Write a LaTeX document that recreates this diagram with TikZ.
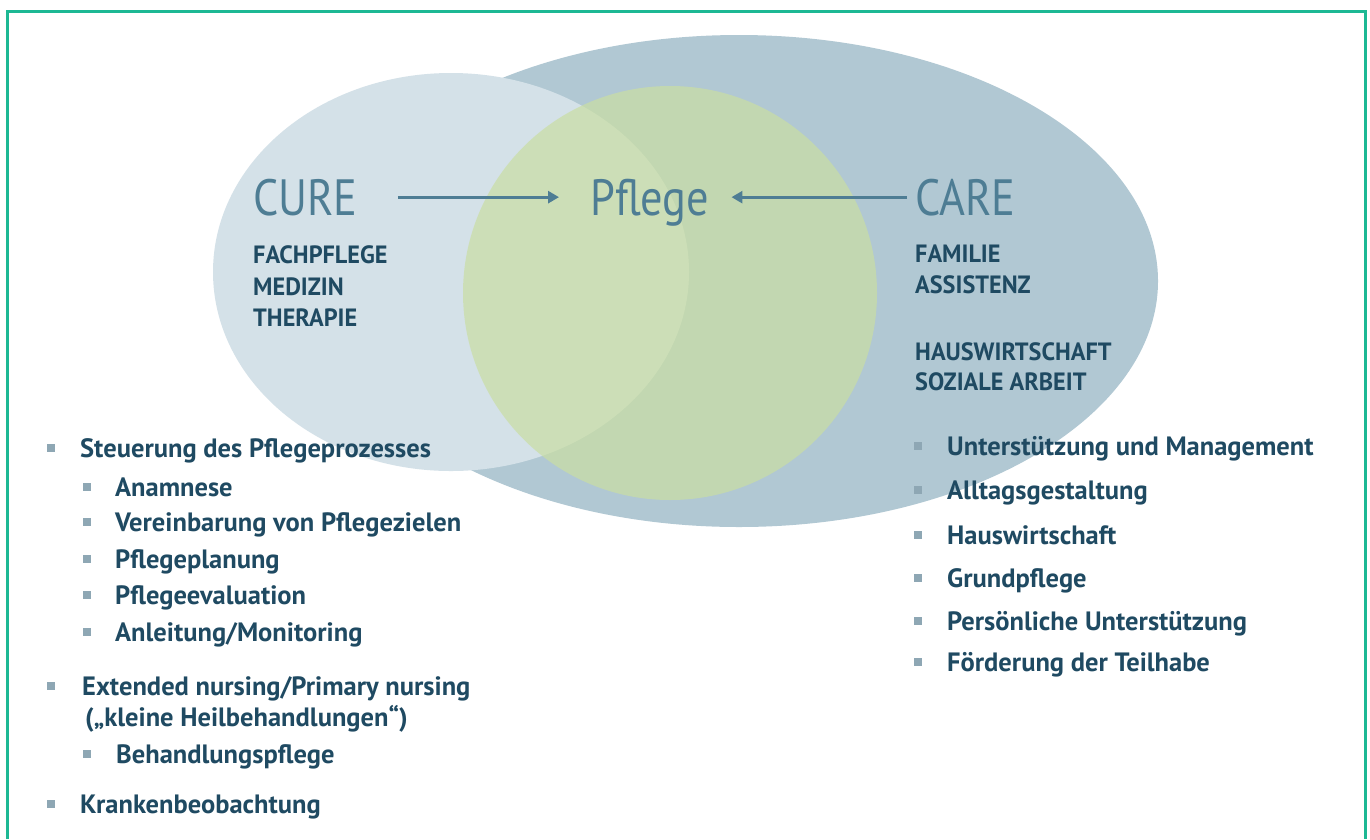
\documentclass[tikz,border=0pt]{standalone}
\usepackage{fontspec}
\setmainfont{PT Sans}
\newfontfamily\headfont[FakeStretch=0.87]{PT Sans}
\newfontfamily\capsfont[FakeStretch=0.97]{PT Sans Bold}
\newfontfamily\itemfont{PT Sans Bold}
\usetikzlibrary{arrows.meta}

\definecolor{framecol}{HTML}{1DB894}
\definecolor{curefill}{HTML}{D4E1E8}
\definecolor{carefill}{HTML}{B1C8D3}
\definecolor{pflegefill}{HTML}{CADEA3}
\definecolor{headcol}{HTML}{4E7D94}
\definecolor{textcol}{HTML}{1F4A62}
\definecolor{bulletcol}{HTML}{8EA7B4}

\tikzset{
  heading/.style={anchor=base west, inner sep=0pt, text=headcol,
    font=\headfont\fontsize{51}{60}\selectfont},
  caps/.style={anchor=base west, inner sep=0pt, text=textcol,
    font=\capsfont\fontsize{25}{30}\selectfont},
  item/.style={anchor=base west, inner sep=0pt, text=textcol,
    font=\itemfont\fontsize{26.5}{30}\selectfont},
  bul/.style={fill=bulletcol, minimum size=7.5pt, inner sep=0pt, anchor=center},
  flow/.style={draw=headcol, line width=3pt,
    -{Triangle[length=11pt,width=12pt]}},
}

\begin{document}
\begin{tikzpicture}[x=1pt,y=-1pt]
\useasboundingbox (0,0) rectangle (1370,839);
\fill[white] (0,0) rectangle (1370,839);

% outer frame, open at the bottom edge
\draw[framecol, line width=3pt] (7.5,839) -- (7.5,11) -- (1365.5,11) -- (1365.5,839);

% the three fields
\fill[carefill] (739,281) ellipse [x radius=419, y radius=246];
\fill[curefill] (451,272) ellipse [x radius=238, y radius=199];
\fill[pflegefill, opacity=0.7] (670,293) circle [radius=207];

% headings
\node[heading] (cure) at (253,215) {CURE};
\node[heading] (pflege) at (590,215) {Pflege};
\node[heading] (care) at (915,215) {CARE};

\draw[flow, shorten <=40pt, shorten >=31pt] (cure.east) -- (cure.east -| pflege.west);
\draw[flow, shorten <=8pt, shorten >=22pt] (care.west) -- (care.west -| pflege.east);

% cure fields
\node[caps] (c1) at (253,263) {FACHPFLEGE};
\node[caps] (c2) at (253,295) {MEDIZIN};
\node[caps] (c3) at (253,326) {THERAPIE};

% care fields
\node[caps] (k1) at (915,262) {FAMILIE};
\node[caps] (k2) at (915,293) {ASSISTENZ};
\node[caps] (k3) at (915,360) {HAUSWIRTSCHAFT};
\node[caps] (k4) at (915,390) {SOZIALE ARBEIT};

% cure tasks
\node[item] (l1) at (80,457) {Steuerung des Pflegeprozesses};
\node[item] (l2) at (115,496) {Anamnese};
\node[item] (l3) at (115,531) {Vereinbarung von Pflegezielen};
\node[item] (l4) at (115,568) {Pflegeplanung};
\node[item] (l5) at (115,604) {Pflegeevaluation};
\node[item] (l6) at (115,641) {Anleitung/Monitoring};
\node[item] (l7) at (82,695) {Extended nursing/Primary nursing};
\node[item] (l8) at (85,726) {(„kleine Heilbehandlungen“)};
\node[item] (l9) at (116,763) {Behandlungspflege};
\node[item] (l10) at (80,813) {Krankenbeobachtung};

\node[bul] (b1) at (51,448) {};
\node[bul] (b2) at (87,487) {};
\node[bul] (b3) at (87,522) {};
\node[bul] (b4) at (87,559) {};
\node[bul] (b5) at (87,595) {};
\node[bul] (b6) at (87,632) {};
\node[bul] (b7) at (51,686) {};
\node[bul] (b9) at (87,754) {};
\node[bul] (b10) at (51,804) {};

% care tasks
\node[item] (r1) at (947,455) {Unterstützung und Management};
\node[item] (r2) at (947,499) {Alltagsgestaltung};
\node[item] (r3) at (947,544) {Hauswirtschaft};
\node[item] (r4) at (947,587) {Grundpflege};
\node[item] (r5) at (947,630) {Persönliche Unterstützung};
\node[item] (r6) at (947,671) {Förderung der Teilhabe};

\node[bul] (q1) at (918,446) {};
\node[bul] (q2) at (918,490) {};
\node[bul] (q3) at (918,535) {};
\node[bul] (q4) at (918,578) {};
\node[bul] (q5) at (918,621) {};
\node[bul] (q6) at (918,662) {};
\end{tikzpicture}
\end{document}
